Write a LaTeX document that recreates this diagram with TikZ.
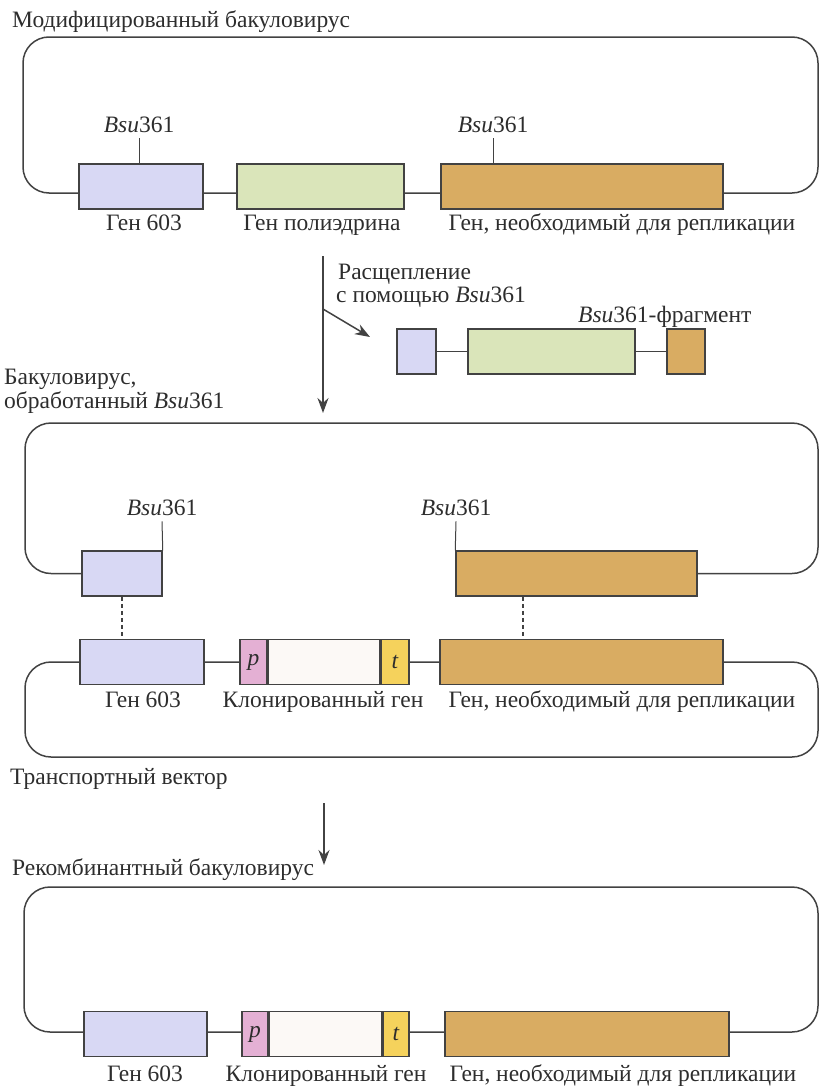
\documentclass[tikz,border=0pt]{standalone}
\usepackage{fontspec}
\setmainfont{Liberation Serif}
\usepackage{tikz}
\usetikzlibrary{arrows.meta,positioning,calc}

\definecolor{dnagray}{RGB}{66,66,66}
\definecolor{txtgray}{RGB}{45,45,45}
\definecolor{lilac}{RGB}{216,216,244}
\definecolor{polygreen}{RGB}{218,229,186}
\definecolor{repltan}{RGB}{217,172,98}
\definecolor{promopink}{RGB}{228,176,212}
\definecolor{termyellow}{RGB}{245,210,92}
\definecolor{cloneoff}{RGB}{252,249,246}

\begin{document}
\begin{tikzpicture}[
            x=1pt, y=-1pt,
            >={Stealth[length=15pt,width=11pt]},
            every node/.style={font=\fontsize{23.5}{27}\selectfont, text=txtgray},
            dna/.style={draw=dnagray, line width=1.5pt},
            gene/.style={draw=dnagray, line width=1.5pt, inner sep=0pt, minimum height=45pt},
            lbl/.style={anchor=base, inner sep=0pt},
            site/.style={anchor=base, inner xsep=0pt, inner ysep=6pt},
            cut/.style={draw=dnagray, line width=1pt},
            match/.style={draw=dnagray, line width=2pt, dash pattern=on 4pt off 3pt},
            flow/.style={draw=dnagray, line width=1.5pt, ->}
        ]
        \useasboundingbox (0,0) rectangle (820,1087);

        %================================================
        % First part: modified baculovirus
        %================================================
        \node[lbl, anchor=base west] (titleA) at (12,27) {Модифицированный бакуловирус};
        \draw[dna, rounded corners=26pt] (23,37) rectangle (818,193);

        \node[gene, fill=lilac, minimum width=124pt] (g603a) at (141,186.5) {};
        \node[gene, fill=polygreen, minimum width=167pt] (polh) at (320.5,186.5) {};
        \node[gene, fill=repltan, minimum width=282pt] (repA) at (582,186.5) {};

        \node[site] (bsuA) at (139,132) {\textit{Bsu}361};
        \node[site] (bsuB) at (493,132) {\textit{Bsu}361};
        \draw[cut] (bsuA.south) -- (bsuA.south |- g603a.north);
        \draw[cut] (bsuB.south) -- (bsuB.south |- repA.north);

        \node[lbl] (g603aLbl) at (144,230) {Ген 603};
        \node[lbl] (polhLbl) at (322,230) {Ген полиэдрина};
        \node[lbl] (repALbl) at (622,230) {Ген, необходимый для репликации};

        %================================================
        % Digestion arrow and released fragment
        %================================================
        \coordinate (cutTop) at (323,256);
        \coordinate (cutEnd) at (323,413);
        \coordinate (forkA) at (323,309);
        \coordinate (forkB) at (370,337);
        \draw[flow] (cutTop) -- (cutEnd);
        \draw[flow] (forkA) -- (forkB);

        \node[lbl, anchor=base west] (cutLbl1) at (338,279) {Расщепление};
        \node[lbl, anchor=base west] (cutLbl2) at (336,302) {с помощью \textit{Bsu}361};

        \node[gene, fill=lilac, minimum width=39pt] (fv) at (416.5,351.5) {};
        \node[gene, fill=polygreen, minimum width=167pt] (fg) at (551.5,351.5) {};
        \node[gene, fill=repltan, minimum width=38pt] (ft) at (686,351.5) {};
        \draw[dna] (fv) -- (fg);
        \draw[dna] (fg) -- (ft);
        \node[lbl, anchor=base west] (fragLbl) at (578,322) {\textit{Bsu}361-фрагмент};

        %================================================
        % Second part: digested baculovirus
        %================================================
        \node[lbl, anchor=base west] (titleB1) at (4,384) {Бакуловирус,};
        \node[lbl, anchor=base west] (titleB2) at (4,408) {обработанный \textit{Bsu}361};

        \node[gene, fill=lilac, minimum width=80pt] (vio2) at (122,573.5) {};
        \node[gene, fill=repltan, minimum width=241pt] (tan2) at (576.5,573.5) {};
        \draw[dna, rounded corners=26pt] (vio2.west) -| (25,423) -| (818,573.5) -- (tan2.east);

        \node[site] (bsuC) at (162,515) {\textit{Bsu}361};
        \node[site] (bsuD) at (456,515) {\textit{Bsu}361};
        \draw[cut] (bsuC.south) -- (vio2.north east);
        \draw[cut] (bsuD.south) -- (tan2.north west);

        %================================================
        % Transfer vector
        %================================================
        \draw[dna, rounded corners=26pt] (25,662) rectangle (818,757);

        \node[gene, fill=lilac, minimum width=124pt] (vio3) at (142,662) {};
        \node[gene, fill=promopink, minimum width=27pt] (p3) at (253.5,662) {\textit{p}};
        \node[gene, fill=cloneoff, minimum width=111pt, right=0pt of p3] (cl3) {};
        \node[gene, fill=termyellow, minimum width=28pt, right=0pt of cl3] (t3) {\textit{t}};
        \node[gene, fill=repltan, minimum width=283pt] (rep3) at (581.5,662) {};

        \coordinate (dotB) at ($(tan2.south west)!0.278!(tan2.south east)$);
        \draw[match] (vio2.south) -- (vio2.south |- vio3.north);
        \draw[match] (dotB) -- (dotB |- rep3.north);

        \node[lbl] (vio3Lbl) at (143,707) {Ген 603};
        \node[lbl] (cl3Lbl) at (323,707) {Клонированный ген};
        \node[lbl] (rep3Lbl) at (622,707) {Ген, необходимый для репликации};
        \node[lbl, anchor=base west] (vecLbl) at (10,784) {Транспортный вектор};

        %================================================
        % Recombination arrow and recombinant baculovirus
        %================================================
        \coordinate (recTop) at (324,803);
        \coordinate (recEnd) at (324,865);
        \draw[flow] (recTop) -- (recEnd);

        \node[lbl, anchor=base west] (titleC) at (12,875) {Рекомбинантный бакуловирус};
        \draw[dna, rounded corners=26pt] (24,887) rectangle (818,1032);

        \node[gene, fill=lilac, minimum width=123pt] (vio4) at (145.5,1034) {};
        \node[gene, fill=promopink, minimum width=26pt] (p4) at (255,1034) {\textit{p}};
        \node[gene, fill=cloneoff, minimum width=112pt, right=0pt of p4] (cl4) {};
        \node[gene, fill=termyellow, minimum width=26pt, right=0pt of cl4] (t4) {\textit{t}};
        \node[gene, fill=repltan, minimum width=284pt] (rep4) at (587,1034) {};

        \node[lbl] (vio4Lbl) at (145,1081) {Ген 603};
        \node[lbl] (cl4Lbl) at (326,1081) {Клонированный ген};
        \node[lbl] (rep4Lbl) at (623,1081) {Ген, необходимый для репликации};

        \end{tikzpicture}
\end{document}
